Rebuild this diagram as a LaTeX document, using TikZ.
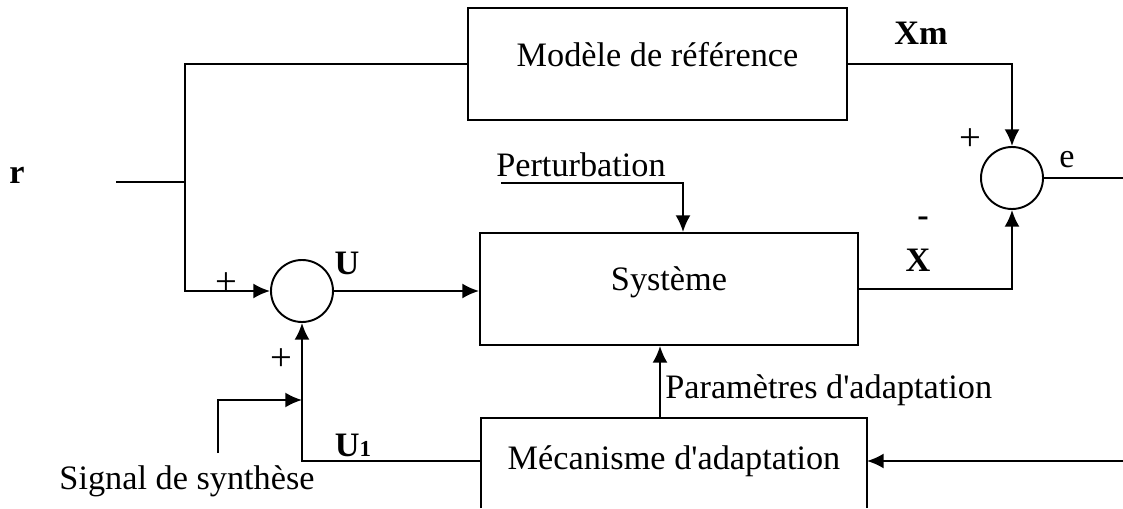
\documentclass[tikz,border=0pt]{standalone}
\usepackage{fontspec}
\setmainfont{Liberation Serif}
\usetikzlibrary{arrows.meta, positioning, calc}

\tikzset{
    bloc/.style={draw, minimum width=7.58cm, minimum height=2.24cm, text depth=4mm},
    somme/.style={draw, circle, minimum size=1.24cm, inner sep=0pt},
    signe/.style={font=\fontsize{22}{24}\selectfont},
}

\begin{document}
\begin{tikzpicture}[>={Latex[length=9.5pt,width=8.5pt]}, line width=1.1pt, font=\fontsize{19.5}{23}\selectfont]
    \useasboundingbox (0,0) rectangle (22.46,10.16);

    % 1. Blocs
    \node[bloc] (modele) at (13.15,8.88) {Modèle de référence};
    \node[bloc, minimum width=7.56cm] (sys) at (13.38,4.38) {Système};
    \node[minimum width=7.68cm, minimum height=1.68cm] (meca) at (13.48,0.94) {Mécanisme d\textquotesingle adaptation};
    \draw (meca.west |- 0,0) -- (meca.north west) -- (meca.north east) -- (meca.east |- 0,0);

    % 2. Sommateurs
    \node[somme] (s1) at (6.04,4.34) {};
    \node[somme] (s2) at (20.24,6.60) {};

    % 3. Points de branchement
    \coordinate (rin) at (2.32,6.52);
    \coordinate (jr) at (3.70,6.52);
    \coordinate (pert) at (10.02,6.50);
    \coordinate (pk) at (13.66,6.50);
    \coordinate (eout) at (22.46,6.60);
    \coordinate (adin) at (22.46,0.94);
    \coordinate (sig) at (4.36,1.10);
    \coordinate (sigk) at (4.36,2.16);

    % 4. Liaisons
    \draw (rin) -- (jr);
    \draw (jr) |- (modele.west);
    \draw[->] (jr) |- (s1.west);
    \draw[->] (modele.east) -| (s2.north);
    \draw[->] (s1.east) -- (s1.east -| sys.west);
    \draw[->] (pert) -- (pk) -- (pk |- sys.north);
    \draw[->] (sys.east) -| (s2.south);
    \draw (s2.east) -- (eout);
    \draw[->] ([xshift=-0.28cm]meca.north) -- ([xshift=-0.28cm]meca.north |- sys.south);
    \draw[->] (adin) -- (meca.east);
    \draw[->] (meca.west) -| (s1.south);
    \draw[->] (sig) -- (sigk) -- (sigk -| s1.south);

    % 5. Etiquettes
    \node (r) at (0.34,6.66) {\textbf{r}};
    \node (xm) at (18.42,9.50) {\textbf{Xm}};
    \node (e) at (21.34,6.96) {e};
    \node[signe] (plus3) at (19.40,7.36) {+};
    \node (moins) at (18.46,5.72) {\textbf{-}};
    \node (x) at (18.36,4.96) {\textbf{X}};
    \node (u) at (6.94,4.90) {\textbf{U}};
    \node[signe] (plus1) at (4.52,4.48) {+};
    \node[signe] (plus2) at (5.62,2.96) {+};
    \node (u1) at (7.06,1.26) {\textbf{U{\fontsize{13}{15}\selectfont 1}}};
    \node (perturb) at (11.62,6.86) {Perturbation};
    \node[anchor=west] (param) at (13.17,2.36) {Paramètres d\textquotesingle adaptation};
    \node (signal) at (3.74,0.54) {Signal de synthèse};
\end{tikzpicture}
\end{document}
